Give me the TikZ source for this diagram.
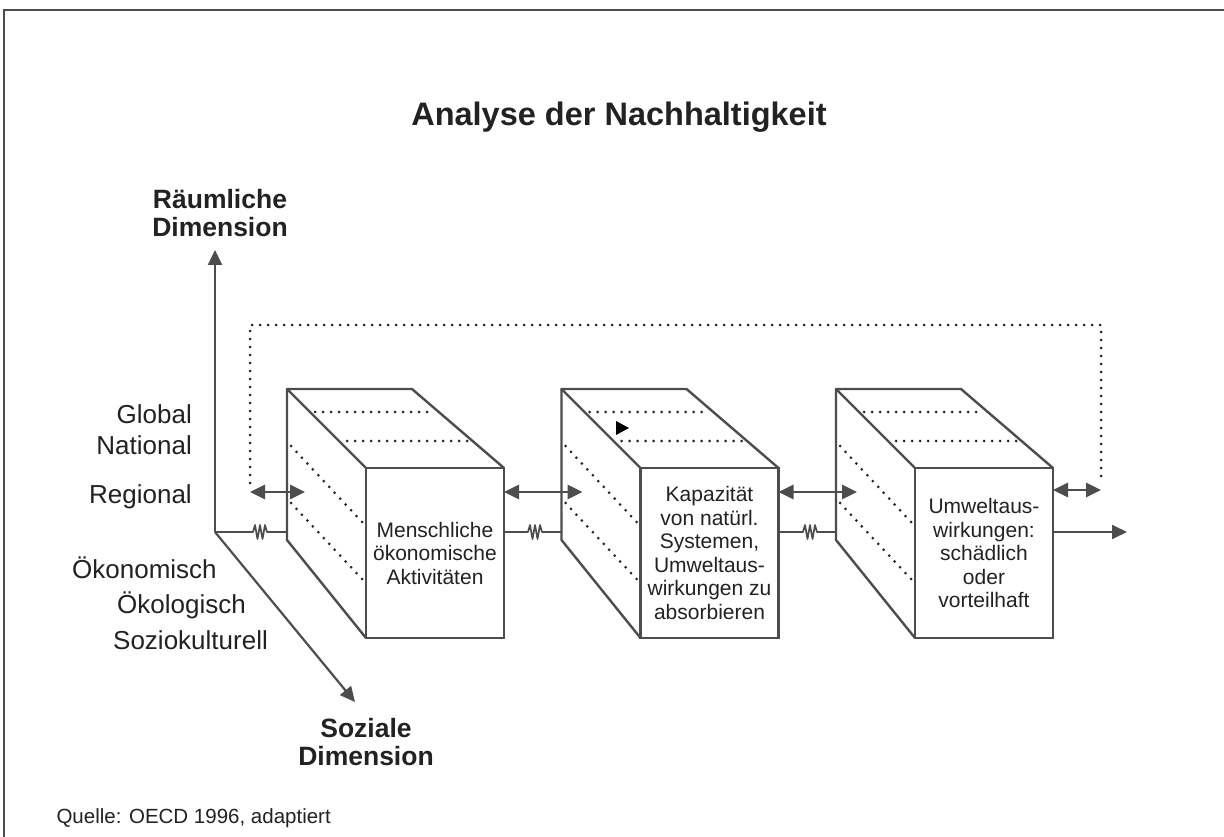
\documentclass[tikz,border=0pt]{standalone}
\usepackage{fontspec}
\setmainfont{Liberation Sans}
\usetikzlibrary{arrows.meta,calc}
\definecolor{lc}{HTML}{4D4D4D}
\definecolor{dc}{HTML}{262626}
\definecolor{tc}{HTML}{222222}
\newcommand\mycube[3]{%
 \begin{scope}[xshift=#1pt]
  \draw[ln] (366,468) -- (287,389) -- (412,389) -- (504,468);
  \draw[ln] (287,389) -- (287,540) -- (366,638);
  \draw[dots] (315,412) -- (430,412);
  \draw[dots] (347,441) -- (467,441);
  \draw[dots] (291,446) -- (363,523);
  \draw[dots] (291,503) -- (363,580);
  \node[face] (#2) at (435,553) {#3};
  \coordinate (#2-in) at (305,492);
  \coordinate (#2-out) at (504,492);
  \coordinate (#2-lo) at (287,532);
  \coordinate (#2-ro) at (504,532);
 \end{scope}}
\newcommand\squig[3]{% from coord #1 to #2, zigzag at x-position #3
  \draw[thin line] (#1) -- (#3-7,532) -- ++(2,-7) -- ++(2.5,14) -- ++(2.5,-14) -- ++(2.5,14) -- ++(2.5,-14) -- ++(2,7) -- (#2);}
\begin{document}
\begin{tikzpicture}[x=1pt,y=-1pt,
  ln/.style={draw=lc, line width=2.4pt, line join=round},
  thin line/.style={draw=lc, line width=1.7pt, line join=round},
  dots/.style={draw=dc, line width=3pt, dash pattern=on 0pt off 8pt, line cap=round},
  arr/.style={draw=lc, line width=2.6pt, -{Triangle[length=15pt,width=14pt]}},
  darr/.style={draw=lc, line width=2.8pt, {Triangle[length=15pt,width=14pt]}-{Triangle[length=15pt,width=14pt]}},
  lab/.style={font=\fontsize{26}{30}\selectfont, text=tc, inner sep=0pt},
  blab/.style={font=\fontsize{26.5}{28}\selectfont\bfseries, text=tc, inner sep=0pt, align=center},
  face/.style={draw=lc, line width=2.4pt, fill=white, minimum width=138pt, minimum height=170pt, align=center, font=\fontsize{21}{23.5}\selectfont, text=tc, inner sep=0pt}
]
\useasboundingbox (0,0) rectangle (1224,837);
\fill[white] (0,0) rectangle (1224,837);
% frame
\draw[lc, line width=2.4pt] (4,837) -- (4,10) -- (1224,10);
% title
\node[font=\fontsize{32.5}{38}\selectfont\bfseries, text=tc] (title) at (619,117) {Analyse der Nachhaltigkeit};
% axes
\coordinate (o) at (215,532);
\coordinate (ytip) at (215,250);
\coordinate (ztip) at (355,702);
\draw[arr, line width=2.2pt] (o) -- (ytip);
\draw[arr, line width=2.2pt] (o) -- (ztip);
\node[blab] (ylab) at (220,213) {Räumliche\\Dimension};
\node[blab] (zlab) at (366,742) {Soziale\\Dimension};
% axis labels
\node[lab, anchor=east] (global) at (192,414) {Global};
\node[lab, anchor=east] (national) at (192,445) {National};
\node[lab, anchor=east] (regional) at (192,497) {Regional};
\node[lab, anchor=west] (oekon) at (72,568) {Ökonomisch};
\node[lab, anchor=west] (oekol) at (117,605) {Ökologisch};
\node[lab, anchor=west] (sozio) at (113,640) {Soziokulturell};
% cubes
\mycube{0}{b1}{Menschliche\\ökonomische\\Aktivitäten}
\mycube{274.5}{b2}{Kapazität\\von natürl.\\Systemen,\\Umweltaus-\\wirkungen zu\\absorbieren}
\mycube{549}{b3}{Umweltaus-\\wirkungen:\\schädlich\\oder\\vorteilhaft}
\fill[black] (616,421) -- (629,428) -- (616,435) -- cycle;
% feedback loop
\coordinate (fbl) at (250,492);
\coordinate (fbr) at (1101,490);
\draw[dots] (250,483) -- (250,325) -- (1101,325) -- (1101,482);
\draw[darr] (fbl) -- (b1-in);
\draw[darr] (b1-out) -- ($(b2-in)+(3,0)$);
\draw[darr] (b2-out) -- ($(b3-in)+(3,0)$);
\draw[darr] (b3-out|-fbr) -- (fbr);
% lower connectors
\squig{o}{b1-lo}{260}
\squig{b1-ro}{b2-lo}{535}
\squig{b2-ro}{b3-lo}{810}
\coordinate (out) at (1127,532);
\draw[arr, line width=1.9pt] (b3-ro) -- (out);
% source
\node[font=\fontsize{20.5}{22}\selectfont, text=tc, anchor=west] (src) at (53,818) {Quelle: OECD 1996, adaptiert};
\end{tikzpicture}
\end{document}
